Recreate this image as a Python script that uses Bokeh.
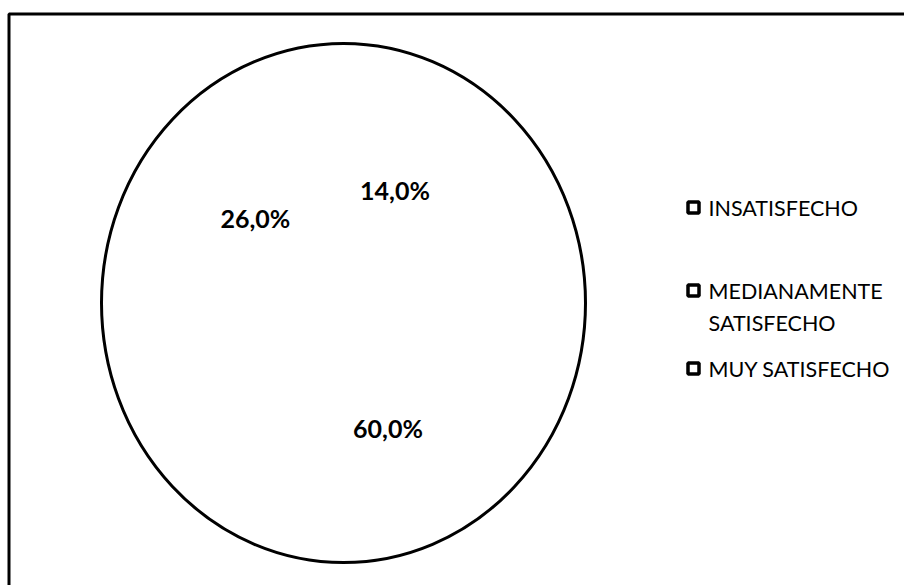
import math
from bokeh.plotting import figure
from bokeh.models import Range1d
from bokeh.core.properties import value
from bokeh.embed import file_html
from bokeh.resources import INLINE

# ---- data ----
categories = ["INSATISFECHO", "MEDIANAMENTE SATISFECHO", "MUY SATISFECHO"]
legend_lines = [["INSATISFECHO"], ["MEDIANAMENTE", "SATISFECHO"], ["MUY SATISFECHO"]]
values = [14.0, 60.0, 26.0]
labels = ["14,0%", "60,0%", "26,0%"]

W, H = 904, 585
p = figure(width=W, height=H, output_backend="svg", toolbar_location=None,
           x_range=Range1d(0, W), y_range=Range1d(H, 0),
           x_axis_type=None, y_axis_type=None, min_border=0,
           outline_line_color=None, background_fill_color="white",
           border_fill_color="white")
p.grid.visible = False

# outer frame (chart area border, clipped at right/bottom)
p.quad(left=8.5, right=W + 20, top=13.5, bottom=H + 20, fill_color=None,
       line_color="black", line_width=3)

# pie geometry
cx, cy, rx, ry = 343, 302.5, 242, 259.5
total = sum(values)
start = 0.0
xs_all, ys_all, tx, ty = [], [], [], []
for v in values:
    a0 = start / total * 2 * math.pi
    a1 = (start + v) / total * 2 * math.pi
    n = 60
    xs = [cx]
    ys = [cy]
    for i in range(n + 1):
        a = a0 + (a1 - a0) * i / n
        xs.append(cx + rx * math.sin(a))
        ys.append(cy - ry * math.cos(a))
    xs_all.append(xs)
    ys_all.append(ys)
    mid = (a0 + a1) / 2
    tx.append(cx + 0.5 * rx * math.sin(mid))
    ty.append(cy - 0.5 * ry * math.cos(mid) + 4)
    start += v

p.patches(xs_all, ys_all, fill_color="white", line_color=None)
p.ellipse(x=cx, y=cy, width=2 * rx, height=2 * ry, fill_color=None,
          line_color="black", line_width=3)

p.text(x=tx, y=ty, text=labels, text_align="center", text_baseline="middle",
       text_font=value("Lato"), text_font_style="bold", text_font_size="25px",
       text_color="black")

# legend
row_y = [207, 290, 368]
line_gap = 32
mx, lx = 693, 708
p.scatter(x=[mx] * len(categories), y=row_y, marker="square", size=11,
          fill_color="white", line_color="black", line_width=3.5)
txs, tys, tts = [], [], []
for ry0, lines in zip(row_y, legend_lines):
    for j, t in enumerate(lines):
        txs.append(lx)
        tys.append(ry0 + j * line_gap)
        tts.append(t)
p.text(x=txs, y=tys, text=tts, text_align="left", text_baseline="middle",
       text_font=value("Lato"), text_font_size="21.5px", text_color="black")

open("out.html", "w").write(file_html(p, INLINE))
